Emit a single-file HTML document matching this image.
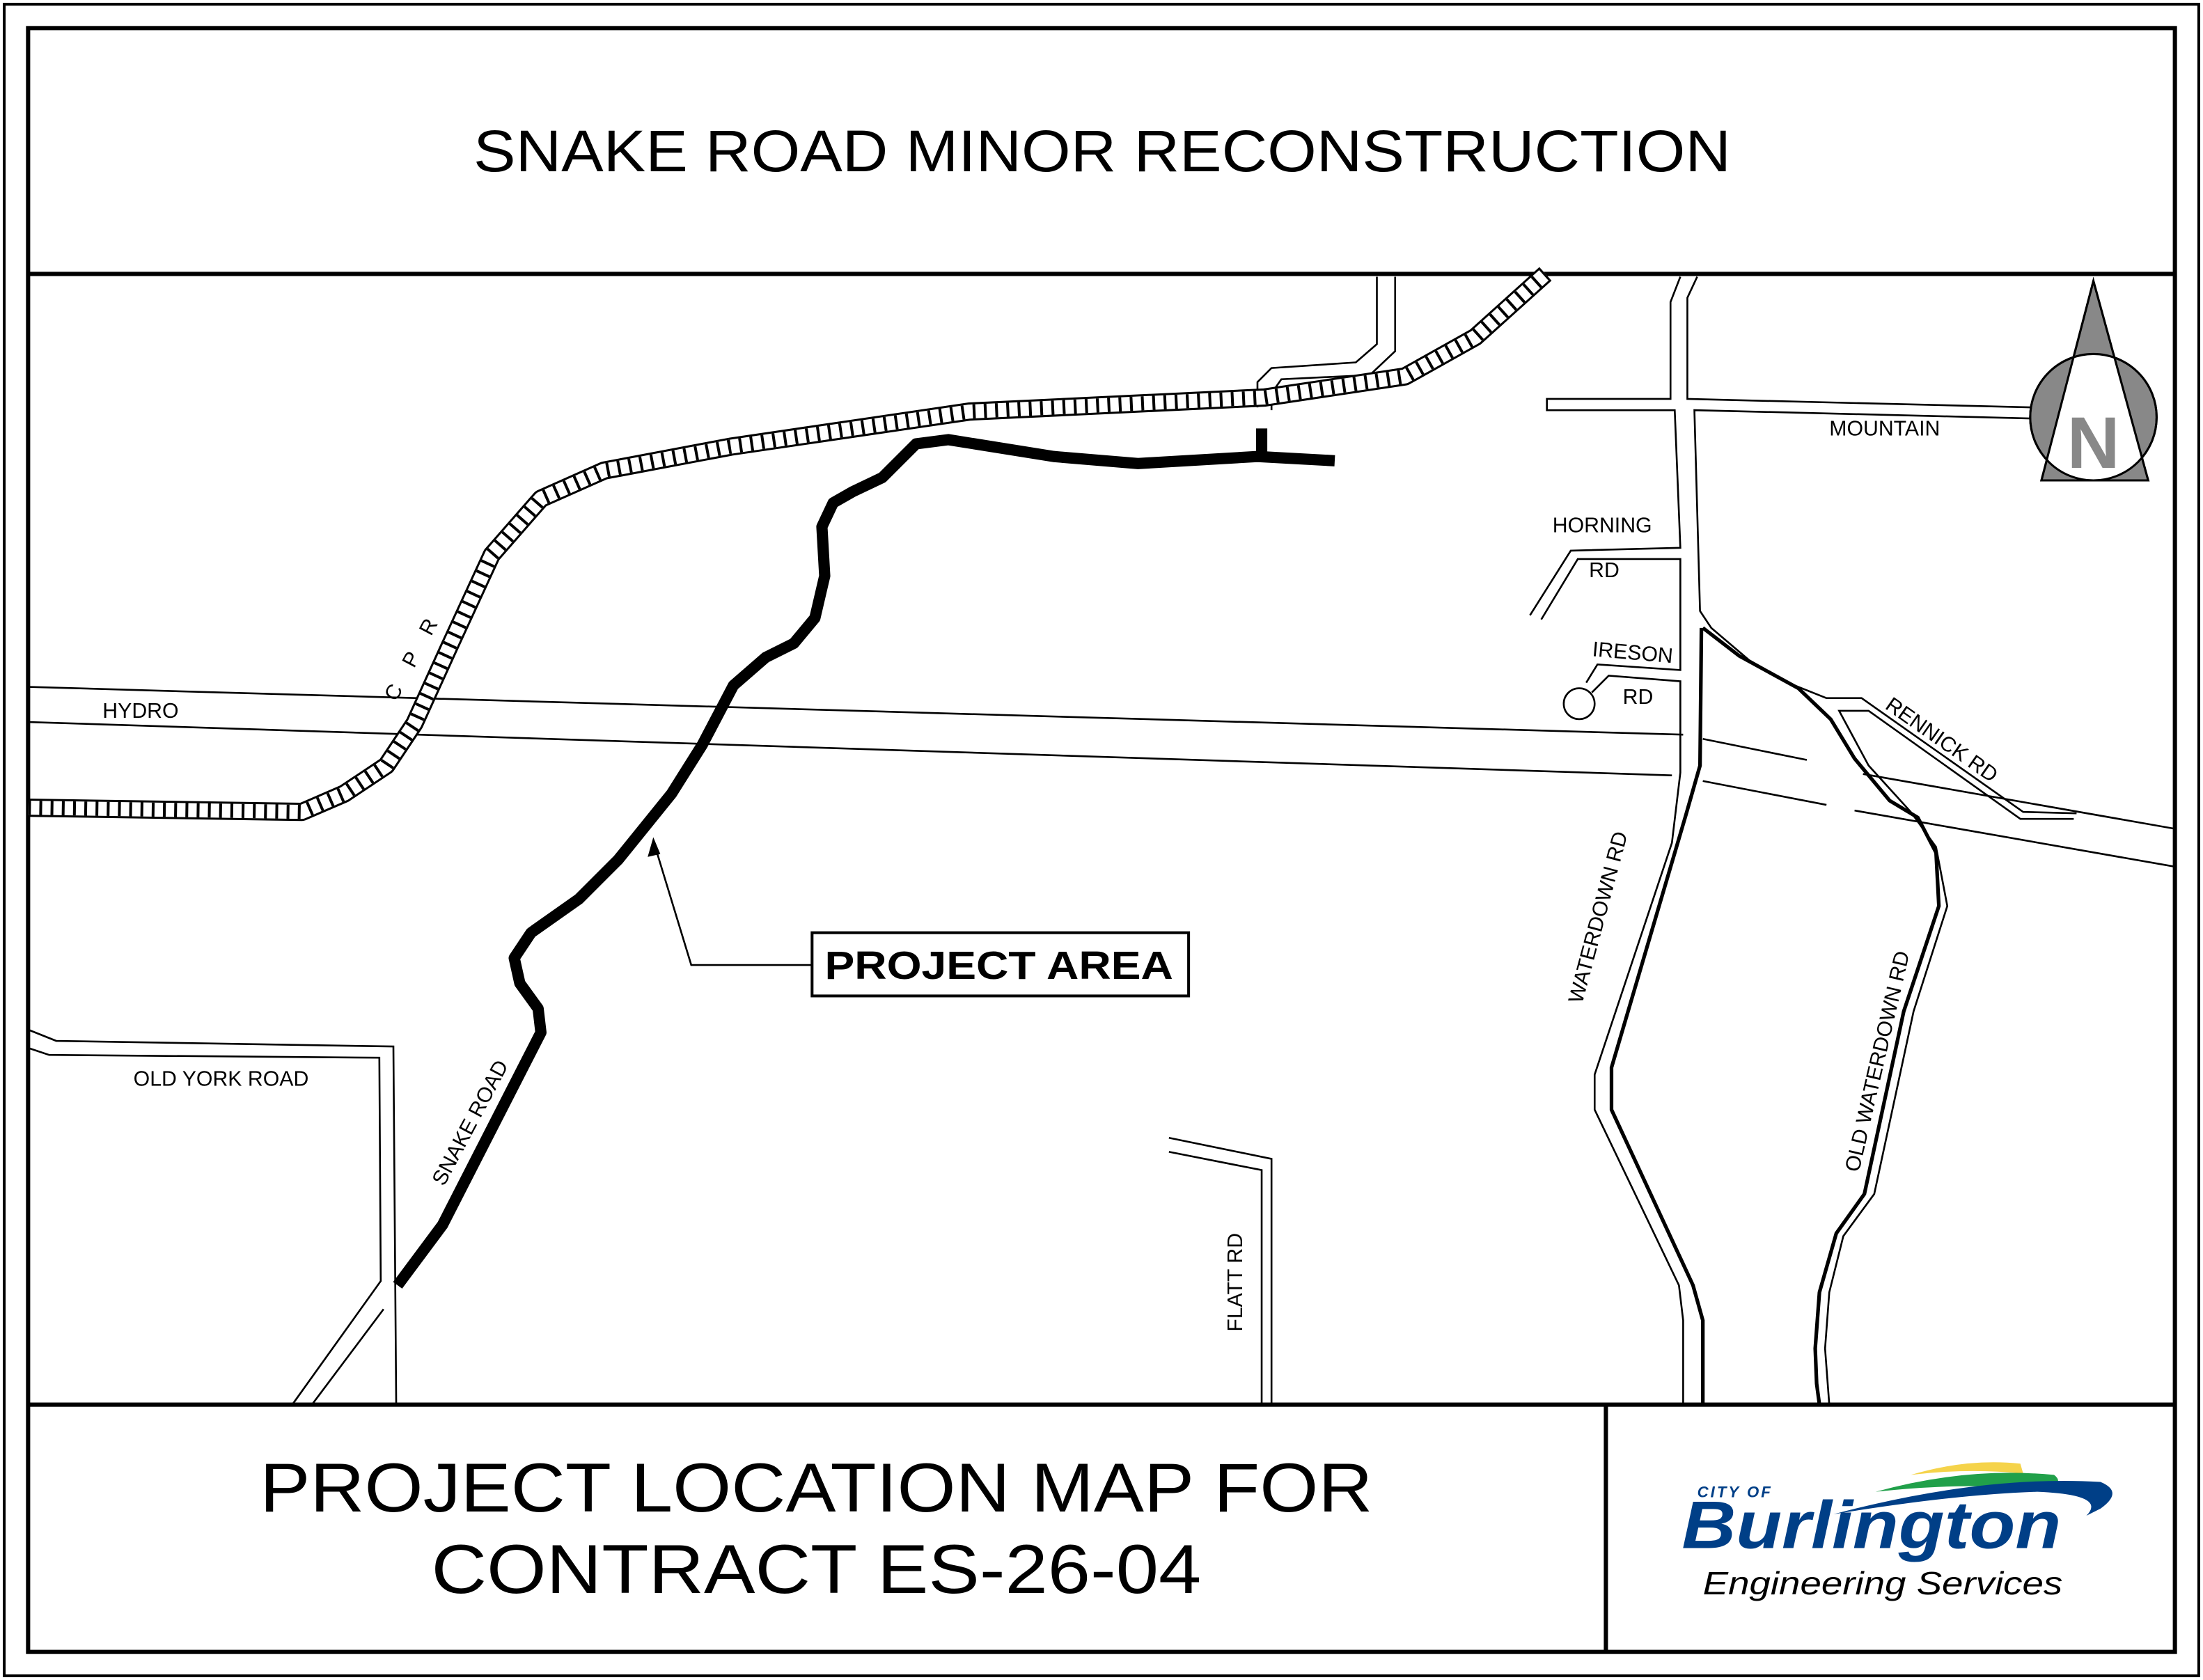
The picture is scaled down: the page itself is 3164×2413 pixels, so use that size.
<!DOCTYPE html>
<html><head><meta charset="utf-8"><style>
html,body{margin:0;padding:0;background:#fff;}
svg{display:block;}
text{font-family:"Liberation Sans",sans-serif;}
</style></head><body>
<svg width="3164" height="2413" viewBox="0 0 1568 1196" preserveAspectRatio="none" xmlns="http://www.w3.org/2000/svg">
<rect x="0" y="0" width="1568" height="1196" fill="#fff"/>
<rect x="3" y="3" width="1562" height="1190" fill="none" stroke="#000" stroke-width="2"/>
<rect x="20" y="20" width="1528" height="1156" fill="none" stroke="#000" stroke-width="3"/>
<line x1="20" y1="195" x2="1548" y2="195" stroke="#000" stroke-width="3"/>
<line x1="20" y1="1000" x2="1548" y2="1000" stroke="#000" stroke-width="3"/>
<line x1="1143" y1="1000" x2="1143" y2="1176" stroke="#000" stroke-width="3"/>

<text x="337" y="122" font-size="42" textLength="895" lengthAdjust="spacingAndGlyphs">SNAKE ROAD  MINOR RECONSTRUCTION</text>
<text x="185" y="1076" font-size="49" textLength="792" lengthAdjust="spacingAndGlyphs">PROJECT LOCATION MAP FOR</text>
<text x="307" y="1134" font-size="49" textLength="548" lengthAdjust="spacingAndGlyphs">CONTRACT ES-26-04</text>

<g fill="none" stroke="#000" stroke-width="1.3">
<polyline points="20,489 1198,523"/>
<polyline points="1212,526 1286,541"/>
<polyline points="1326,551 1548,590"/>
<polyline points="20,514 1190,552"/>
<polyline points="1212,556 1300,573"/>
<polyline points="1320,577 1548,617"/>
<polyline points="980,197 980,245 965,258 905,262 895,272 895,290"/>
<polyline points="993,197 993,250 975,267 912,270 905,280 905,292"/>
<polyline points="1196,197 1189,215 1189,284 1101,284 1101,292 1192,292 1196,390 1118,392 1089,438"/>
<polyline points="1097,441 1123,398 1196,398 1196,477 1137,473 1129,486"/>
<circle cx="1124" cy="501" r="11"/>
<polyline points="1133,493 1145,481 1196,485 1196,550 1190,600 1135,765 1135,790 1195,915 1198,940 1198,1000"/>
<polyline points="1208,197 1201,212 1201,284 1445,290"/>
<polyline points="1450,298 1206,292 1210,435 1218,447 1245,470 1275,487 1300,497 1325,497 1440,578 1478,579"/>
<polyline points="1476,583 1438,583 1330,506 1309,506 1330,545 1360,578 1378,603 1386,645 1362,720 1334,850 1312,880 1302,920 1299,960 1302,1000"/>
<polyline points="20,733 40,741 280,745 282,1000"/>
<polyline points="20,746 35,751 270,753 271,912 208,1000"/>
<polyline points="273,932 222,1000"/>
<polyline points="832,810 905,825 905,1000"/>
<polyline points="832,820 898,833 898,1000"/>
<polyline points="578,687 492,687 467,605"/>
</g>
<polygon points="465,596 461,610 470,608" fill="#000"/>
<g fill="none" stroke="#000" stroke-width="2.6">
<polyline points="1211,447 1210,545 1200,580 1147,760 1147,790 1205,915 1212,940 1212,1000"/>
<polyline points="1212,447 1238,467 1280,490 1303,512 1320,540 1345,570 1365,582 1378,607 1380,645 1355,720 1327,850 1307,878 1295,920 1292,960 1293,985 1295,1000"/>
</g>
<g fill="none" stroke-linejoin="round">
<path d="M20,575 L215,578 L245,565 L275,545 L295,515 L320,460 L350,395 L385,355 L430,335 L520,318 L690,293 L900,283 L1000,268 L1050,240 L1100,195" stroke="#000" stroke-width="13"/>
<path d="M20,575 L215,578 L245,565 L275,545 L295,515 L320,460 L350,395 L385,355 L430,335 L520,318 L690,293 L900,283 L1000,268 L1050,240 L1100,195" stroke="#fff" stroke-width="10"/>
<path d="M20,575 L215,578 L245,565 L275,545 L295,515 L320,460 L350,395 L385,355 L430,335 L520,318 L690,293 L900,283 L1000,268 L1050,240 L1100,195" stroke="#000" stroke-width="10" stroke-dasharray="2,6"/>
</g>
<polyline fill="none" stroke="#000" stroke-width="8" stroke-linejoin="round" points="283,915 315,872 385,735 383,718 370,700 366,682 378,664 412,640 440,612 478,565 500,530 522,488 545,468 565,458 580,440 587,410 585,375 593,358 607,350 628,340 652,316 675,313 750,325 810,330 895,325 950,328"/>
<line x1="898" y1="305" x2="898" y2="326" stroke="#000" stroke-width="8"/>

<rect x="578" y="664" width="268" height="45" fill="#fff" stroke="#000" stroke-width="2"/>
<text x="587" y="697" font-size="28" font-weight="bold" textLength="248" lengthAdjust="spacingAndGlyphs">PROJECT AREA</text>

<g font-size="15" font-family="'DejaVu Sans Condensed','DejaVu Sans',sans-serif">
<text x="73" y="511">HYDRO</text>
<text x="95" y="773">OLD YORK ROAD</text>
<text x="1302" y="310">MOUNTAIN</text>
<text x="1105" y="379">HORNING</text>
<text x="1131" y="411">RD</text>
<text x="1133" y="467" transform="rotate(5 1133 467)">IRESON</text>
<text x="1155" y="501">RD</text>
<text transform="translate(282,500) rotate(-62)" letter-spacing="6">C P R</text>
<text transform="translate(316,845) rotate(-62)">SNAKE ROAD</text>
<text transform="translate(884,948) rotate(-90)">FLATT RD</text>
<text transform="translate(1126,715) rotate(-75)">WATERDOWN RD</text>
<text transform="translate(1323,835) rotate(-77)">OLD WATERDOWN RD</text>
<text transform="translate(1341,504) rotate(35)">RENNICK RD</text>
</g>

<defs><clipPath id="cc"><circle cx="1490" cy="297" r="45"/></clipPath></defs>
<circle cx="1490" cy="297" r="45" fill="#888" stroke="#000" stroke-width="1.5"/>
<polygon points="1490,200 1453,342 1529,342" fill="#888" stroke="#000" stroke-width="1.5"/>
<polygon points="1490,200 1453,342 1529,342" fill="#fff" clip-path="url(#cc)"/>
<g fill="none" stroke="#000" stroke-width="1.5">
<circle cx="1490" cy="297" r="45"/>
<polygon points="1490,200 1453,342 1529,342"/>
</g>
<text x="1490" y="333" font-size="52" font-weight="bold" fill="#888" text-anchor="middle">N</text>

<path d="M1360,1050 Q1400,1038 1438,1042 L1440,1049 Q1400,1045 1360,1050 Z" fill="#f5d34a"/>
<path d="M1335,1062 Q1400,1044 1462,1050 Q1470,1056 1456,1062 Q1410,1054 1335,1062 Z" fill="#21a04a"/>
<path d="M1305,1078 Q1410,1050 1495,1055 Q1512,1062 1495,1074 L1485,1079 Q1500,1064 1450,1062 Q1390,1064 1305,1078 Z" fill="#003f87"/>
<text x="1208" y="1066" font-size="11" font-weight="bold" font-style="italic" fill="#003f87" letter-spacing="1.5">CITY OF</text>
<text x="1197" y="1102" font-size="48" font-weight="bold" font-style="italic" fill="#003f87" textLength="270" lengthAdjust="spacingAndGlyphs">Burlington</text>
<text x="1212" y="1135" font-size="23" font-style="italic" fill="#000" textLength="256" lengthAdjust="spacingAndGlyphs">Engineering Services</text>
</svg>
</body></html>
